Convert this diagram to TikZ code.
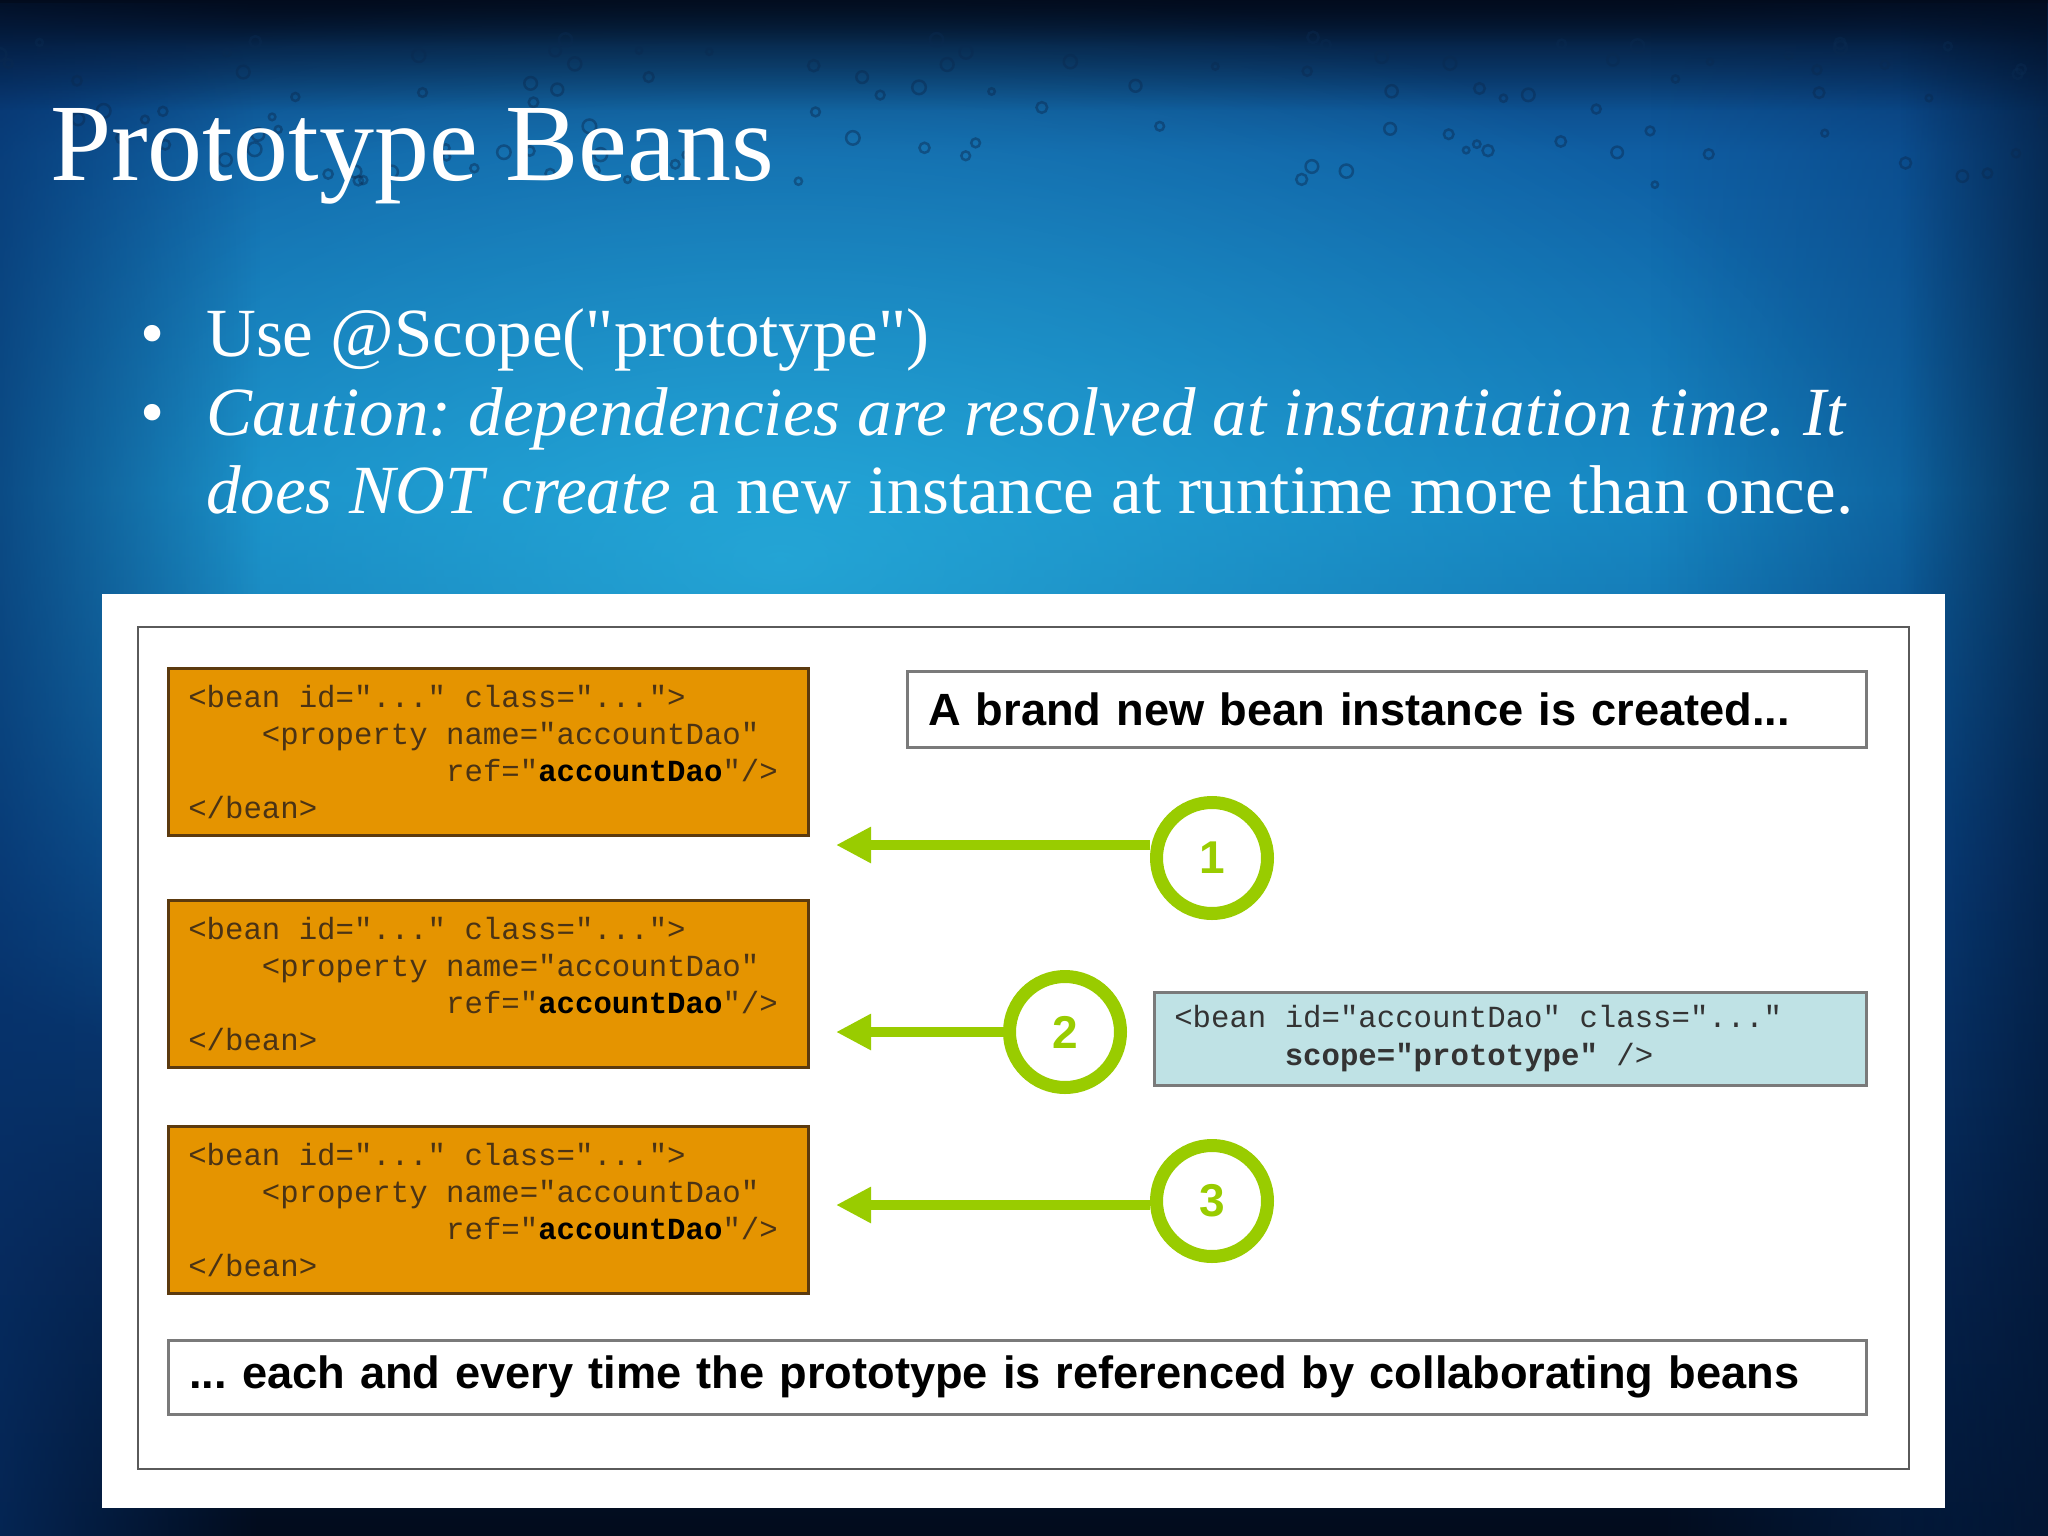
\documentclass[tikz,border=0pt]{standalone}
\usepackage{fontspec}
\setmainfont{Liberation Serif}
\setsansfont{Liberation Sans}
\setmonofont{Liberation Mono}
\newfontfamily\slidefont{Liberation Serif}
\newfontfamily\codefont{Liberation Mono}
\newcommand\msp{\hphantom{x}}
\usetikzlibrary{arrows.meta,fadings,shadows}

\definecolor{orangefill}{HTML}{E59400}
\definecolor{orangeline}{HTML}{5C3A0E}
\definecolor{codebrown}{HTML}{4A3315}
\definecolor{bluefill}{HTML}{BFE2E5}
\definecolor{limegreen}{HTML}{99CC00}
\definecolor{boxgray}{HTML}{7A7A7A}
\definecolor{framegray}{HTML}{5A5A5A}
\definecolor{codegray}{HTML}{333333}
\definecolor{bgA}{HTML}{020B1C}
\definecolor{bgB}{HTML}{061F44}
\definecolor{bgC}{HTML}{0A4A8C}
\definecolor{bgD}{HTML}{1380BE}
\definecolor{bgE}{HTML}{0F5EA3}
\definecolor{bgF}{HTML}{0B3F78}
\definecolor{bgG}{HTML}{030F24}
\definecolor{glowcyan}{HTML}{2AB4E0}
\definecolor{edgeblue}{HTML}{06306A}
\definecolor{bubblecol}{HTML}{0A2A50}

% the visible part of a shading is 25bp..75bp
\pgfdeclareverticalshading{slidebg}{100bp}{color(0bp)=(bgA); color(25bp)=(bgA); color(34bp)=(bgB); color(47bp)=(bgC); color(59bp)=(bgD); color(70bp)=(bgE); color(73.5bp)=(bgF); color(75bp)=(bgG); color(100bp)=(bgG)}
\tikzfading[name=glowfade, inner color=transparent!0, outer color=transparent!100]
\tikzfading[name=fadetoright, left color=transparent!0, right color=transparent!100]
\tikzfading[name=fadetoleft, left color=transparent!100, right color=transparent!0]
\tikzfading[name=fadedown, top color=transparent!0, bottom color=transparent!100]

\tikzset{
  slidetext/.style={anchor=base west, inner sep=0, text=white, font=\slidefont\fontsize{69}{78}\selectfont},
  codebox/.style={draw=orangeline, fill=orangefill, line width=2.5, anchor=north west,
    minimum width=640, minimum height=167, text width=600, inner xsep=20, inner ysep=0,
    align=left, text=codebrown, font=\codefont\fontsize{30.7}{37}\selectfont,
    drop shadow={shadow xshift=1pt, shadow yshift=-2pt, opacity=0.35}},
  bluebox/.style={draw=boxgray, fill=bluefill, line width=2.5, anchor=north west,
    minimum width=712, minimum height=93, text width=672, inner xsep=20, inner ysep=0,
    align=left, text=codegray, font=\codefont\fontsize{30.7}{38}\selectfont,
    drop shadow={shadow xshift=1pt, shadow yshift=-2pt, opacity=0.35}},
  notebox/.style={draw=boxgray, fill=white, line width=2.5, anchor=north west,
    inner xsep=21, inner ysep=0, align=left, text=black,
    font=\sffamily\bfseries\fontsize{45.2}{50}\selectfont,
    drop shadow={shadow xshift=1pt, shadow yshift=-2pt, opacity=0.35}},
  numcircle/.style={circle, draw=limegreen, line width=13, minimum size=111, inner sep=0,
    fill=white, text=limegreen, font=\sffamily\bfseries\fontsize{46}{46}\selectfont},
  greenarrow/.style={draw=limegreen, line width=10, -{Triangle[length=35pt, width=34pt]}},
  bubble/.style={draw=bubblecol, line width=2.5, opacity=0.45}
}

\begin{document}
\frenchspacing
\begin{tikzpicture}[x=1pt,y=-1pt]
\useasboundingbox (0,0) rectangle (2048,1536);
% background
\shade[shading=slidebg] (0,0) rectangle (2048,1536);
\fill[glowcyan, path fading=glowfade, opacity=0.75] (780,560) ellipse (1150 and 600);
\fill[edgeblue, path fading=fadetoright, opacity=0.7] (0,0) rectangle (260,1536);
\fill[edgeblue, path fading=fadetoleft, opacity=0.55] (1650,0) rectangle (2048,1536);
\fill[bgA, path fading=fadetoleft, opacity=0.45] (1900,0) rectangle (2048,1536);
\fill[bgA, path fading=fadedown, opacity=0.8] (0,0) rectangle (2048,110);
% bubbles texture
\pgfmathsetseed{7}
\foreach \i in {1,...,110}{
  \pgfmathsetmacro\bx{rnd*2048}
  \pgfmathsetmacro\by{35+rnd*150}
  \pgfmathsetmacro\br{3+rnd*4}
  \draw[bubble] (\bx,\by) circle[radius=\br];
}

% slide text
\node[anchor=base west, inner sep=0, text=white, font=\slidefont\fontsize{110}{110}\selectfont] (title) at (50,180) {Prototype Beans};
\node[slidetext] (dot1) at (140,356) {•};
\node[slidetext] (line1) at (206,356) {Use @Scope("prototype")};
\node[slidetext] (dot2) at (140,435) {•};
\node[slidetext] (line2) at (206,435) {\itshape Caution: dependencies are resolved at instantiation time. It};
\node[slidetext] (line3) at (206,513) {\textit{does NOT create} a new instance at runtime more than once.};

% panel
\fill[white] (102,594) rectangle (1945,1508);
\draw[framegray, line width=2.5] (138,627) rectangle (1909,1469);

% bean boxes
\node[codebox] (b1) at (167,667) {<bean\msp id="..."\msp class="...">\\
\hphantom{xxxx}<property\msp name="accountDao"\\
\hphantom{xxxxxxxxxxxxxx}ref="\textbf{\color{black}accountDao}"/>\\
</bean>};
\node[codebox] (b2) at (167,899) {<bean\msp id="..."\msp class="...">\\
\hphantom{xxxx}<property\msp name="accountDao"\\
\hphantom{xxxxxxxxxxxxxx}ref="\textbf{\color{black}accountDao}"/>\\
</bean>};
\node[codebox] (b3) at (167,1125) {<bean\msp id="..."\msp class="...">\\
\hphantom{xxxx}<property\msp name="accountDao"\\
\hphantom{xxxxxxxxxxxxxx}ref="\textbf{\color{black}accountDao}"/>\\
</bean>};

% notes
\node[notebox, minimum width=959, minimum height=76, text width=917] (top) at (906,670) {A brand new bean instance is created...};
\node[notebox, minimum width=1698, minimum height=74, text width=1656] (bottom) at (167,1339) {... each and every time the prototype is referenced by collaborating beans};

% prototype definition
\node[bluebox] (proto) at (1153,991) {<bean\msp id="accountDao"\msp class="..."\\
\hphantom{xxxxxx}\textbf{scope="prototype"}\msp/>};

% arrows and circles
\coordinate (t1) at (836,845);
\coordinate (t2) at (836,1032);
\coordinate (t3) at (836,1205);
\node[numcircle] (c1) at (1212,858) {1};
\node[numcircle] (c2) at (1065,1032) {2};
\node[numcircle] (c3) at (1212,1201) {3};
\draw[greenarrow] (c1.west |- t1) -- (t1);
\draw[greenarrow] (c2.west |- t2) -- (t2);
\draw[greenarrow] (c3.west |- t3) -- (t3);
\end{tikzpicture}
\end{document}
